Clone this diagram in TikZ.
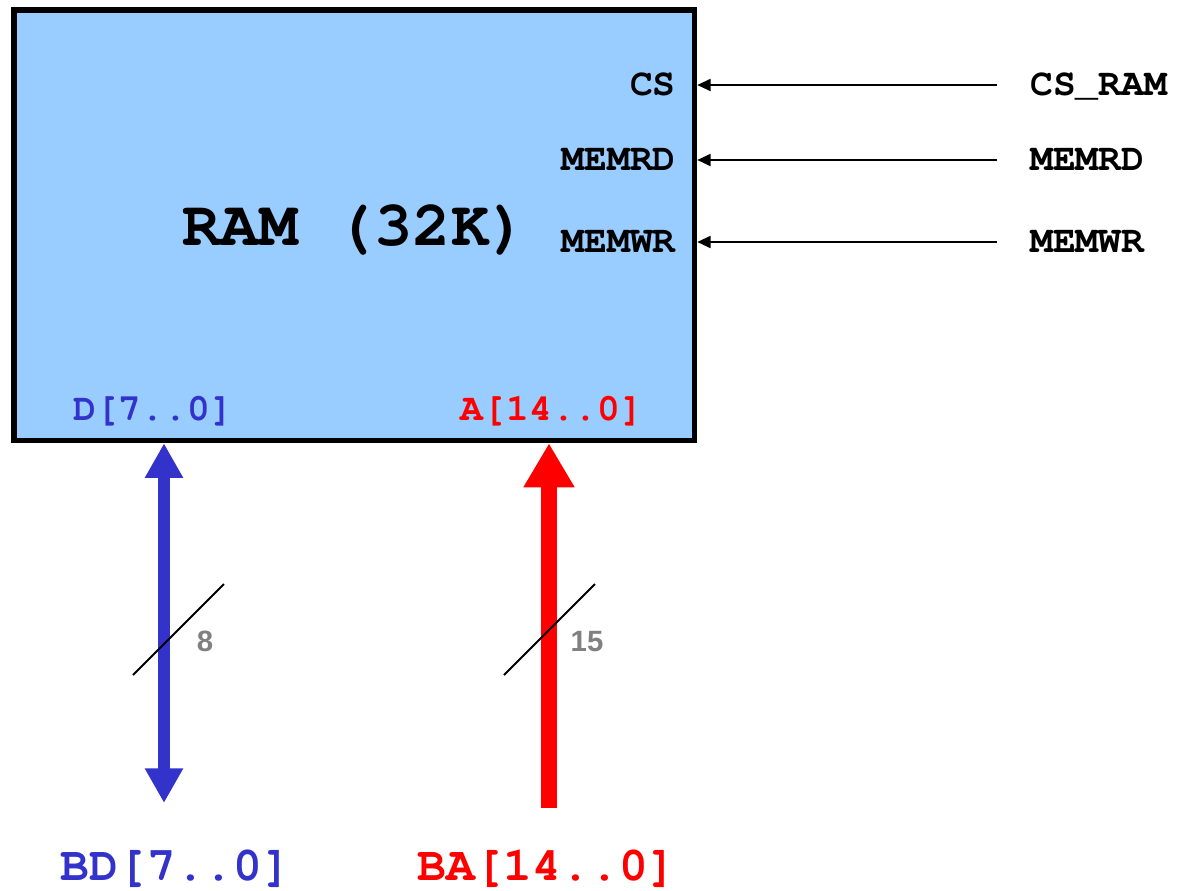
\documentclass[tikz,border=0pt]{standalone}
\usepackage{fontspec}
\setmainfont{texgyrecursor}[Extension=.otf, UprightFont=*-regular, BoldFont=*-bold]
\newfontfamily\numfont{Liberation Sans}
\usetikzlibrary{arrows.meta}

\definecolor{ramblue}{HTML}{99CCFF}
\definecolor{busblue}{HTML}{3333CC}
\definecolor{busred}{HTML}{FF0000}
\definecolor{widthgray}{HTML}{808080}

\begin{document}
\begin{tikzpicture}[x=0.75pt,y=-0.75pt,
  pinlabel/.style={font=\fontsize{28.5}{30}\selectfont\bfseries, inner sep=0pt},
  buslabel/.style={font=\fontsize{36}{38}\selectfont\bfseries, inner sep=0pt, anchor=base},
  buswidth/.style={font=\fontsize{22}{24}\numfont\bfseries, text=widthgray, inner sep=0pt, anchor=base},
  ctl/.style={line width=1.4pt, -{Triangle[length=10pt,width=9pt]}},
  tick/.style={line width=1.4pt}]

\useasboundingbox (0,0) rectangle (1182,890);

\node[draw, line width=4.1pt, fill=ramblue, minimum width=510.4pt, minimum height=322.9pt] (ram) at (354.25,225.25) {};
\node[font=\fontsize{48}{50}\selectfont\bfseries, inner sep=0pt, anchor=base] (ramname) at (355,245) {RAM (32K)};

\node[pinlabel, anchor=base east] (cs) at (676,95) {CS};
\node[pinlabel, anchor=base east] (memrd) at (676,170) {MEMRD};
\node[pinlabel, anchor=base east] (memwr) at (676,252) {MEMWR};
\node[pinlabel, anchor=base, text=busblue] (dpin) at (153,420) {D[7..0]};
\node[pinlabel, anchor=base, text=busred] (apin) at (552,420) {A[14..0]};

\node[pinlabel, anchor=base west] (csram) at (1030,95) {CS\_RAM};
\node[pinlabel, anchor=base west] (memrdin) at (1030,170) {MEMRD};
\node[pinlabel, anchor=base west] (memwrin) at (1030,252) {MEMWR};

\coordinate (csx) at (997,85);
\coordinate (memrdx) at (997,160);
\coordinate (memwrx) at (997,242);
\draw[ctl] (csx) -- (csx -| ram.east);
\draw[ctl] (memrdx) -- (memrdx -| ram.east);
\draw[ctl] (memwrx) -- (memwrx -| ram.east);

\coordinate (dend) at (164,803);
\coordinate (aend) at (549,808);
\draw[busblue, line width=9.5pt, {Triangle[length=26pt,width=27pt]}-{Triangle[length=26pt,width=27pt]}] (dend |- ram.south) -- (dend);
\draw[busred, line width=12pt, -{Triangle[length=33pt,width=36pt]}] (aend) -- (aend |- ram.south);

\draw[tick] (133,675) -- (224,584);
\draw[tick] (504,675) -- (595,584);
\node[buswidth] (dwidth) at (205,651) {8};
\node[buswidth] (awidth) at (587,651) {15};

\node[buslabel, text=busblue] (bd) at (176,880) {BD[7..0]};
\node[buslabel, text=busred] (ba) at (547,880) {BA[14..0]};

\end{tikzpicture}
\end{document}
